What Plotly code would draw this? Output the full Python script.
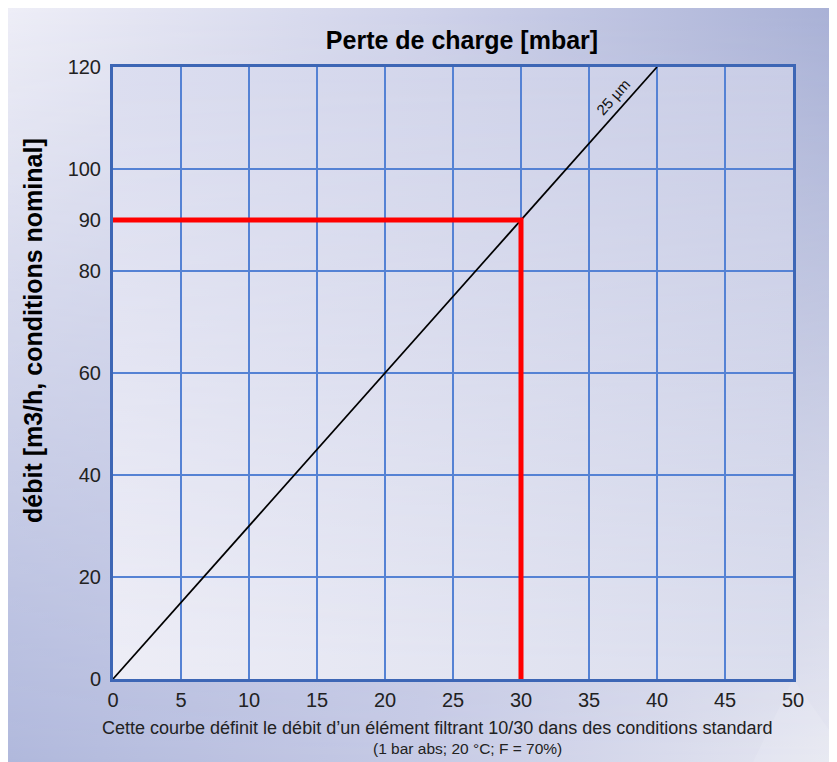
import base64
import plotly.graph_objects as go

# ---------------- data ----------------
pressure_mbar = [0, 40]          # Perte de charge [mbar]
flow_m3h = [0, 120]              # débit [m3/h]
series_label = "25 µm"
label_pressure = 36.8            # where the series label sits (data units)
label_flow = 114.2

read_pressure = [0, 30, 30]      # reading example (red)
read_flow = [90, 90, 0]

x_ticks = [0, 5, 10, 15, 20, 25, 30, 35, 40, 45, 50]
y_ticks = [0, 20, 40, 60, 80, 90, 100, 120]
y_grid = [20, 40, 60, 80, 100]

title_text = "Perte de charge [mbar]"
ytitle_text = "débit [m3/h, conditions nominal]"
caption1 = "Cette courbe définit le débit d\u2019un élément filtrant 10/30 dans des conditions standard"
caption2 = "(1 bar abs; 20 °C; F = 70%)"

# ---------------- layout geometry ----------------
W, H = 829, 754
L, R, T, B = 105, 44, 59, 83
PW, PH = W - L - R, H - T - B

AXIS_BLUE = "#3d66b5"
GRID_BLUE = "#5582d4"
FONT = "Arial"

# background gradient (decoration) as inline SVG
svg = f'''<svg xmlns="http://www.w3.org/2000/svg" width="{W}" height="{H}" viewBox="0 0 {W} {H}" preserveAspectRatio="none">
<defs>
<linearGradient id="bgTop" x1="0" y1="0" x2="1" y2="0"><stop offset="0" stop-color="#eeeef7"/><stop offset="0.5" stop-color="#d0d3ea"/><stop offset="1" stop-color="#a9b1d6"/></linearGradient>
<linearGradient id="bgBot" x1="0" y1="0" x2="1" y2="0"><stop offset="0" stop-color="#b0b8dc"/><stop offset="0.5" stop-color="#c6cae5"/><stop offset="1" stop-color="#e6e7f1"/></linearGradient>
<linearGradient id="fade" x1="0" y1="0" x2="0" y2="1"><stop offset="0" stop-color="#000"/><stop offset="1" stop-color="#fff"/></linearGradient>
<mask id="bgMask" maskUnits="userSpaceOnUse" x="0" y="0" width="{W}" height="{H}"><rect x="0" y="0" width="{W}" height="{H}" fill="url(#fade)"/></mask>
<linearGradient id="paTop" x1="0" y1="0" x2="1" y2="0"><stop offset="0" stop-color="#dcdef0"/><stop offset="1" stop-color="#c9cde6"/></linearGradient>
<linearGradient id="paBot" x1="0" y1="0" x2="1" y2="0"><stop offset="0" stop-color="#ededf6"/><stop offset="1" stop-color="#dadded"/></linearGradient>
<mask id="paMask" maskUnits="userSpaceOnUse" x="{L}" y="{T}" width="{PW}" height="{PH}"><rect x="{L}" y="{T}" width="{PW}" height="{PH}" fill="url(#fade)"/></mask>
</defs>
<rect x="0" y="0" width="{W}" height="{H}" fill="url(#bgTop)"/>
<rect x="0" y="0" width="{W}" height="{H}" fill="url(#bgBot)" mask="url(#bgMask)"/>
<polygon points="{L+PW},{T+PH} {W},{T+PH+62} {W},{H} {L+PW-40},{H}" fill="#ffffff" fill-opacity="0.12"/>
<rect x="{L}" y="{T}" width="{PW}" height="{PH}" fill="url(#paTop)"/>
<rect x="{L}" y="{T}" width="{PW}" height="{PH}" fill="url(#paBot)" mask="url(#paMask)"/>
</svg>'''
svg_uri = "data:image/svg+xml;base64," + base64.b64encode(svg.encode("utf-8")).decode("ascii")

fig = go.Figure()

fig.add_trace(go.Scatter(
    x=pressure_mbar, y=flow_m3h, mode="lines",
    line=dict(color="black", width=1.7), hoverinfo="skip", showlegend=False,
    xaxis="x", yaxis="y",
))
fig.add_trace(go.Scatter(
    x=read_pressure, y=read_flow, mode="lines",
    line=dict(color="#ff0000", width=5), hoverinfo="skip", showlegend=False,
    xaxis="x", yaxis="y2",
))

fig.add_annotation(
    x=label_pressure, y=label_flow, xref="x", yref="y", text=series_label,
    showarrow=False, textangle=-48, xanchor="center", yanchor="middle",
    font=dict(family=FONT, size=15, color="#111"),
)

fig.add_annotation(
    x=(25 - L) / PW, y=(T + PH - 323) / PH, xref="paper", yref="paper",
    xanchor="center", yanchor="middle",
    text="<b>" + ytitle_text + "</b>", textangle=-90, showarrow=False,
    font=dict(family=FONT, size=25, color="#000"),
)
fig.add_annotation(
    x=(429 - L) / PW, y=(T + PH - 720) / PH, xref="paper", yref="paper",
    xanchor="center", yanchor="middle",
    text=caption1, showarrow=False, font=dict(family=FONT, size=18, color="#222"),
)
fig.add_annotation(
    x=(459 - L) / PW, y=(T + PH - 740) / PH, xref="paper", yref="paper",
    xanchor="center", yanchor="middle",
    text=caption2, showarrow=False, font=dict(family=FONT, size=15.5, color="#222"),
)

fig.add_layout_image(dict(
    source=svg_uri, xref="paper", yref="paper",
    x=-L / PW, y=1 + T / PH, sizex=W / PW, sizey=H / PH,
    xanchor="left", yanchor="top", sizing="stretch", layer="below",
))

fig.update_layout(
    width=W, height=H,
    margin=dict(l=L, r=R, t=T, b=B, pad=0),
    paper_bgcolor="white", plot_bgcolor="rgba(0,0,0,0)",
    title=dict(text="<b>" + title_text + "</b>", x=454 / W, xanchor="center",
               y=1 - 32 / H, yanchor="middle",
               font=dict(family=FONT, size=25, color="#000")),
    xaxis=dict(range=[0, 50], tickvals=x_ticks, showgrid=True, gridcolor=GRID_BLUE,
               gridwidth=1.5, zeroline=False, showline=True, linecolor=AXIS_BLUE,
               linewidth=3, mirror=True, ticks="outside", ticklen=1,
               tickcolor="rgba(0,0,0,0)",
               tickfont=dict(family=FONT, size=20, color="#222")),
    yaxis=dict(range=[0, 120], tickvals=y_grid, showgrid=True, gridcolor=GRID_BLUE,
               gridwidth=1.5, zeroline=False, showline=True, linecolor=AXIS_BLUE,
               linewidth=3, mirror=True, showticklabels=False),
    yaxis2=dict(range=[0, 120], tickvals=y_ticks, overlaying="y", side="left",
                showgrid=False, zeroline=False, showline=False, ticks="outside",
                ticklen=7, tickcolor="rgba(0,0,0,0)",
                tickfont=dict(family=FONT, size=20, color="#222")),
    showlegend=False,
)

fig.write_html("out.html")
